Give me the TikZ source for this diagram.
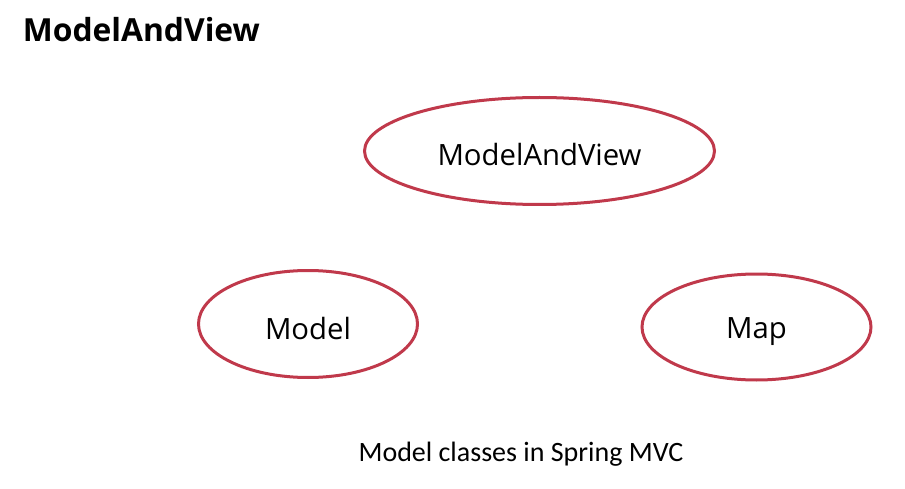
\documentclass[tikz,border=0pt]{standalone}
\usepackage{fontspec}
\setmainfont{Open Sans}
\newfontfamily\capfont{Carlito}
\usepackage{tikz}
\usetikzlibrary{shapes.geometric}
\definecolor{classred}{RGB}{192,57,75}

\begin{document}
\begin{tikzpicture}[x=1pt, y=-1pt,
		line width = 3pt,
		cls/.style={draw=classred, ellipse, inner sep=0pt, text height=30pt, text depth=0pt,
			font=\fontsize{29.3}{32}\selectfont}]

	\useasboundingbox (0,0) rectangle (905,489);

	\node [anchor=base west, font=\bfseries\fontsize{31.8}{36}\selectfont] (title) at (18,42) {ModelAndView};

	\node [cls, minimum width=350pt, minimum height=107pt] (mav) at (539.5,151) {ModelAndView};
	\node [cls, minimum width=219pt, minimum height=107pt] (model) at (308,324) {Model};
	\node [cls, minimum width=229pt, minimum height=106pt, text height=22pt] (map) at (756.5,327) {Map};

	\node [font=\capfont\fontsize{28}{30}\selectfont, anchor=base] (caption) at (521,461) {Model classes in Spring MVC};

\end{tikzpicture}
\end{document}
